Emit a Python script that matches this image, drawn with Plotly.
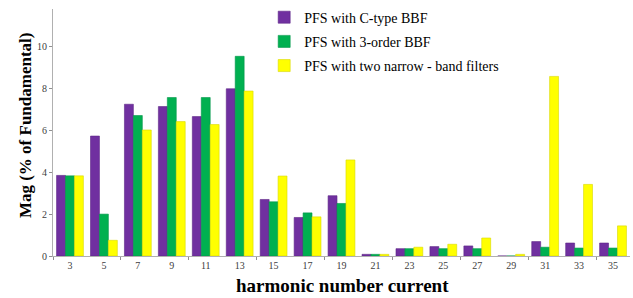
import plotly.graph_objects as go

harmonics = [3, 5, 7, 9, 11, 13, 15, 17, 19, 21, 23, 25, 27, 29, 31, 33, 35]
c_type = [3.85, 5.73, 7.25, 7.14, 6.66, 7.99, 2.70, 1.84, 2.88, 0.08, 0.35, 0.45, 0.48, 0.0, 0.69, 0.62, 0.62]
three_order = [3.83, 2.0, 6.71, 7.57, 7.57, 9.54, 2.59, 2.06, 2.51, 0.08, 0.35, 0.35, 0.35, 0.0, 0.42, 0.38, 0.38]
narrow_band = [3.83, 0.75, 6.02, 6.42, 6.28, 7.88, 3.82, 1.87, 4.59, 0.08, 0.42, 0.56, 0.86, 0.08, 8.58, 3.42, 1.44]

series_names = ["PFS with C-type BBF", "PFS with 3-order BBF", "PFS with two narrow - band filters"]
colors = ["#7030A0", "#00B050", "#FFFF00"]
line_colors = ["#5E2787", "#00964A", "#D8D800"]
y_ticks = [0, 2, 4, 6, 8, 10]
minor_ticks = [2, 6, 10, 14, 18, 22, 26, 30, 34]
x_title = "harmonic number current"
y_title = "Mag (% of Fundamental)"

fig = go.Figure()
for i, (name, vals) in enumerate(zip(series_names, [c_type, three_order, narrow_band])):
    fig.add_trace(go.Bar(
        x=harmonics, y=vals, name=name, legendgroup=f"g{i}",
        marker=dict(color=colors[i], line=dict(color=line_colors[i], width=0.6)),
    ))

serif = "Liberation Serif, Times New Roman, serif"
fig.update_layout(
    width=633, height=298,
    margin=dict(l=53, r=3, t=9, b=42, autoexpand=False),
    paper_bgcolor="white", plot_bgcolor="white",
    barmode="group", bargap=0.21, bargroupgap=0,
    font=dict(family=serif, color="#000000"),
    legend=dict(x=0.366, y=1.03, xanchor="left", yanchor="top",
                font=dict(family=serif, size=14, color="#000000"),
                bgcolor="rgba(0,0,0,0)", traceorder="grouped", tracegroupgap=3,
                itemwidth=30),
    xaxis=dict(range=[2, 36], tickmode="array", tickvals=harmonics,
               ticktext=[str(h) for h in harmonics], ticks="",
               tickfont=dict(family=serif, size=10, color="#404040"),
               showline=True, linecolor="#B0B0B0", linewidth=1,
               showgrid=False, zeroline=False,
               minor=dict(tickmode="array", tickvals=minor_ticks, ticks="outside",
                          ticklen=3, tickcolor="#909090", showgrid=False)),
    yaxis=dict(range=[0, 11.8], tickmode="array", tickvals=y_ticks,
               ticks="outside", ticklen=3, tickcolor="#909090",
               tickfont=dict(family=serif, size=10, color="#404040"),
               showline=True, linecolor="#B0B0B0", linewidth=1,
               showgrid=False, zeroline=False),
    annotations=[
        dict(text=f"<b>{x_title}</b>", xref="paper", yref="paper", x=0.502, y=-0.121,
             xanchor="center", yanchor="middle", showarrow=False,
             font=dict(family=serif, size=19, color="#000000")),
        dict(text=f"<b>{y_title}</b>", xref="paper", yref="paper", x=-0.0485, y=0.53,
             xanchor="center", yanchor="middle", showarrow=False, textangle=-90,
             font=dict(family=serif, size=17, color="#000000")),
    ],
)

fig.write_html("out.html", config={"displayModeBar": False},
               post_script="document.body.style.margin='0px';document.body.style.overflow='hidden';")
